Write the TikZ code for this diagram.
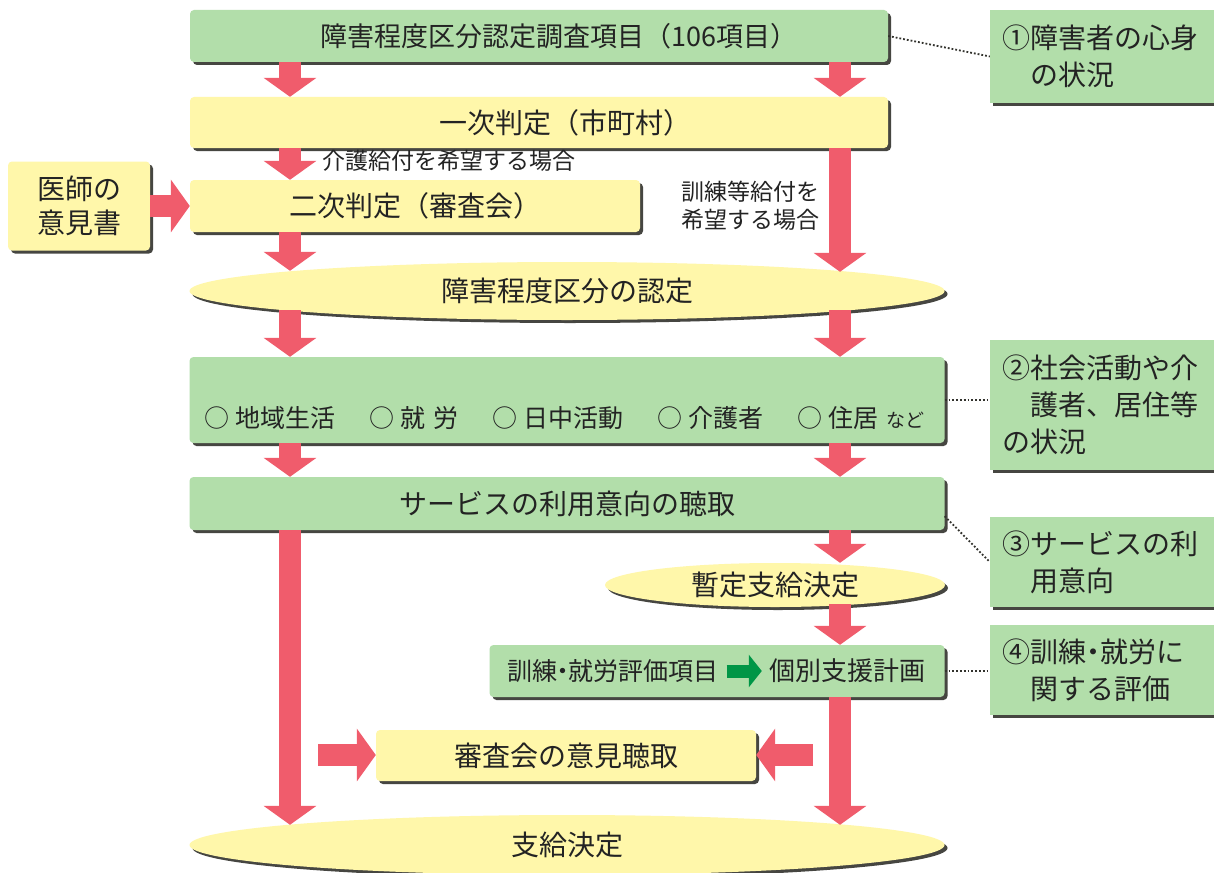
\documentclass[tikz,border=0pt]{standalone}
\usepackage{fontspec}
\setmainfont{Noto Sans CJK JP}
\usetikzlibrary{arrows.meta,shapes.geometric,shadows}
\definecolor{boxgreen}{RGB}{178,222,170}
\definecolor{boxyellow}{RGB}{255,247,170}
\definecolor{arrred}{RGB}{240,92,108}
\definecolor{arrgreen}{RGB}{0,150,70}
\definecolor{txt}{RGB}{35,35,35}
\definecolor{shad}{RGB}{50,50,45}
\newcommand{\nakaguro}{\kern-7pt・\kern-7pt}
\begin{document}
\begin{tikzpicture}[x=1pt,y=-1pt,
  every node/.style={text=txt},
  shade/.style={drop shadow={shadow xshift=3pt,shadow yshift=-3pt,fill=shad,opacity=0.9}},
  gbox/.style={shade,fill=boxgreen,rounded corners=4pt,inner sep=0pt,font=\fontsize{28pt}{34pt}\selectfont},
  ybox/.style={shade,fill=boxyellow,rounded corners=4pt,inner sep=0pt,font=\fontsize{28pt}{34pt}\selectfont},
  yell/.style={shade,ellipse,fill=boxyellow,inner sep=0pt,font=\fontsize{28pt}{34pt}\selectfont},
  notebox/.style={shade,fill=boxgreen,inner xsep=12pt,inner ysep=0pt,text width=216pt,align=left,minimum width=240pt,font=\fontsize{28pt}{37pt}\selectfont},
  lbl/.style={inner sep=0pt,font=\fontsize{23pt}{28pt}\selectfont},
  bigarr/.style={draw=arrred,line width=22pt,-{Triangle[width=52pt,length=19pt]}},
  smallarr/.style={draw=arrgreen,line width=13pt,-{Triangle[width=32pt,length=13pt]}},
  dotline/.style={draw=shad,dotted,line width=1.8pt}
]
\useasboundingbox (0,0) rectangle (1214,872);
\clip (0,0) rectangle (1214,872);
\fill[white] (0,0) rectangle (1214,872);
\coordinate (L) at (290,0);
\coordinate (R) at (840,0);

% main flow
\node[gbox,minimum width=698pt,minimum height=52pt] (b1) at (539,36) {\fontsize{27pt}{32pt}\selectfont\hspace*{40pt}障害程度区分認定調査項目（106項目）};
\node[ybox,minimum width=698pt,minimum height=51pt] (b2) at (539,122.5) {\hspace*{52pt}一次判定（市町村）};
\node[ybox,minimum width=450pt,minimum height=52pt] (b3) at (415,206) {二次判定（審査会）};
\node[ybox,minimum width=142pt,minimum height=89pt,align=center] (doc) at (79,206) {医師の\\意見書};
\node[lbl,anchor=west] (l1) at (322,161) {介護給付を希望する場合};
\node[lbl,align=left] (l2) at (750,206) {訓練等給付を\\希望する場合};
\node[yell,minimum width=755pt,minimum height=58pt] (e1) at (567,291) {障害程度区分の認定};
\node[gbox,minimum width=755pt,minimum height=86pt] (b4) at (567,400) {};
\node[inner sep=0pt,anchor=west,font=\fontsize{25pt}{28pt}\selectfont] (items) at (204,418)
  {○\hspace{6pt}地域生活\hspace{34pt}○\hspace{6pt}就\hspace{8pt}労\hspace{34pt}○\hspace{6pt}日中活動\hspace{34pt}○\hspace{6pt}介護者\hspace{34pt}○\hspace{6pt}住居\hspace{8pt}{\fontsize{19pt}{20pt}\selectfont など}};
\node[gbox,minimum width=755pt,minimum height=53pt] (b5) at (567,503.5) {サービスの利用意向の聴取};
\node[yell,minimum width=340pt,minimum height=44pt] (e2) at (775,585) {暫定支給決定};
\node[gbox,minimum width=455pt,minimum height=52pt] (b6) at (717,671) {};
\node[inner sep=0pt,font=\fontsize{25pt}{30pt}\selectfont] (t6a) at (613,671) {訓練\nakaguro 就労評価項目};
\node[inner sep=0pt,font=\fontsize{26pt}{30pt}\selectfont] (t6b) at (847,671) {個別支援計画};
\node[ybox,minimum width=380pt,minimum height=51pt] (b7) at (566,755.5) {審査会の意見聴取};
\node[yell,minimum width=755pt,minimum height=60pt] (e3) at (567,845) {支給決定};

% notes
\node[notebox,minimum height=93pt] (n1) at (1110,56.5) {①障害者の心身\\\hspace*{1em}の状況};
\node[notebox,minimum height=130pt] (n2) at (1110,405) {②社会活動や介\\\hspace*{1em}護者、居住等\\の状況};
\node[notebox,minimum height=90pt] (n3) at (1110,562) {③サービスの利\\\hspace*{1em}用意向};
\node[notebox,minimum height=90pt] (n4) at (1110,670) {④訓練\nakaguro 就労に\\\hspace*{1em}関する評価};

% dotted links
\draw[dotline] (b1.east) -- (n1.west);
\draw[dotline] (b4.east) -- (b4.east -| n2.west);
\draw[dotline] ([yshift=14pt]b5.south east) -- (n3.west);
\draw[dotline] (b6.east) -- (b6.east -| n4.west);

% red arrows
\draw[bigarr] (b1.south -| L) -- (b2.north -| L);
\draw[bigarr] (b1.south -| R) -- (b2.north -| R);
\draw[bigarr] (b2.south -| L) -- (b3.north -| L);
\draw[bigarr,shorten >=-10pt] (b2.south -| R) -- (e1.north -| R);
\draw[bigarr,shorten >=-9pt] (b3.south -| L) -- (e1.north -| L);
\draw[bigarr,shorten <=-10pt] (e1.south -| L) -- (b4.north -| L);
\draw[bigarr,shorten <=-10pt] (e1.south -| R) -- (b4.north -| R);
\draw[bigarr] (b4.south -| L) -- (b5.north -| L);
\draw[bigarr] (b4.south -| R) -- (b5.north -| R);
\draw[bigarr,shorten >=-10pt] (b5.south -| L) -- (e3.north -| L);
\draw[bigarr] (b5.south -| R) -- (e2.north -| R);
\draw[bigarr,shorten <=-3pt] (e2.south -| R) -- (b6.north -| R);
\draw[bigarr,shorten >=-10pt] (b6.south -| R) -- (e3.north -| R);
\draw[bigarr] (doc.east) -- (b3.west);
\coordinate (hl) at (318,755);
\coordinate (hr) at (813,755);
\draw[bigarr] (hl) -- (hl -| b7.west);
\draw[bigarr] (hr) -- (hr -| b7.east);
\draw[smallarr,shorten <=8pt,shorten >=7pt] (t6a.east) -- (t6b.west);
\end{tikzpicture}
\end{document}
